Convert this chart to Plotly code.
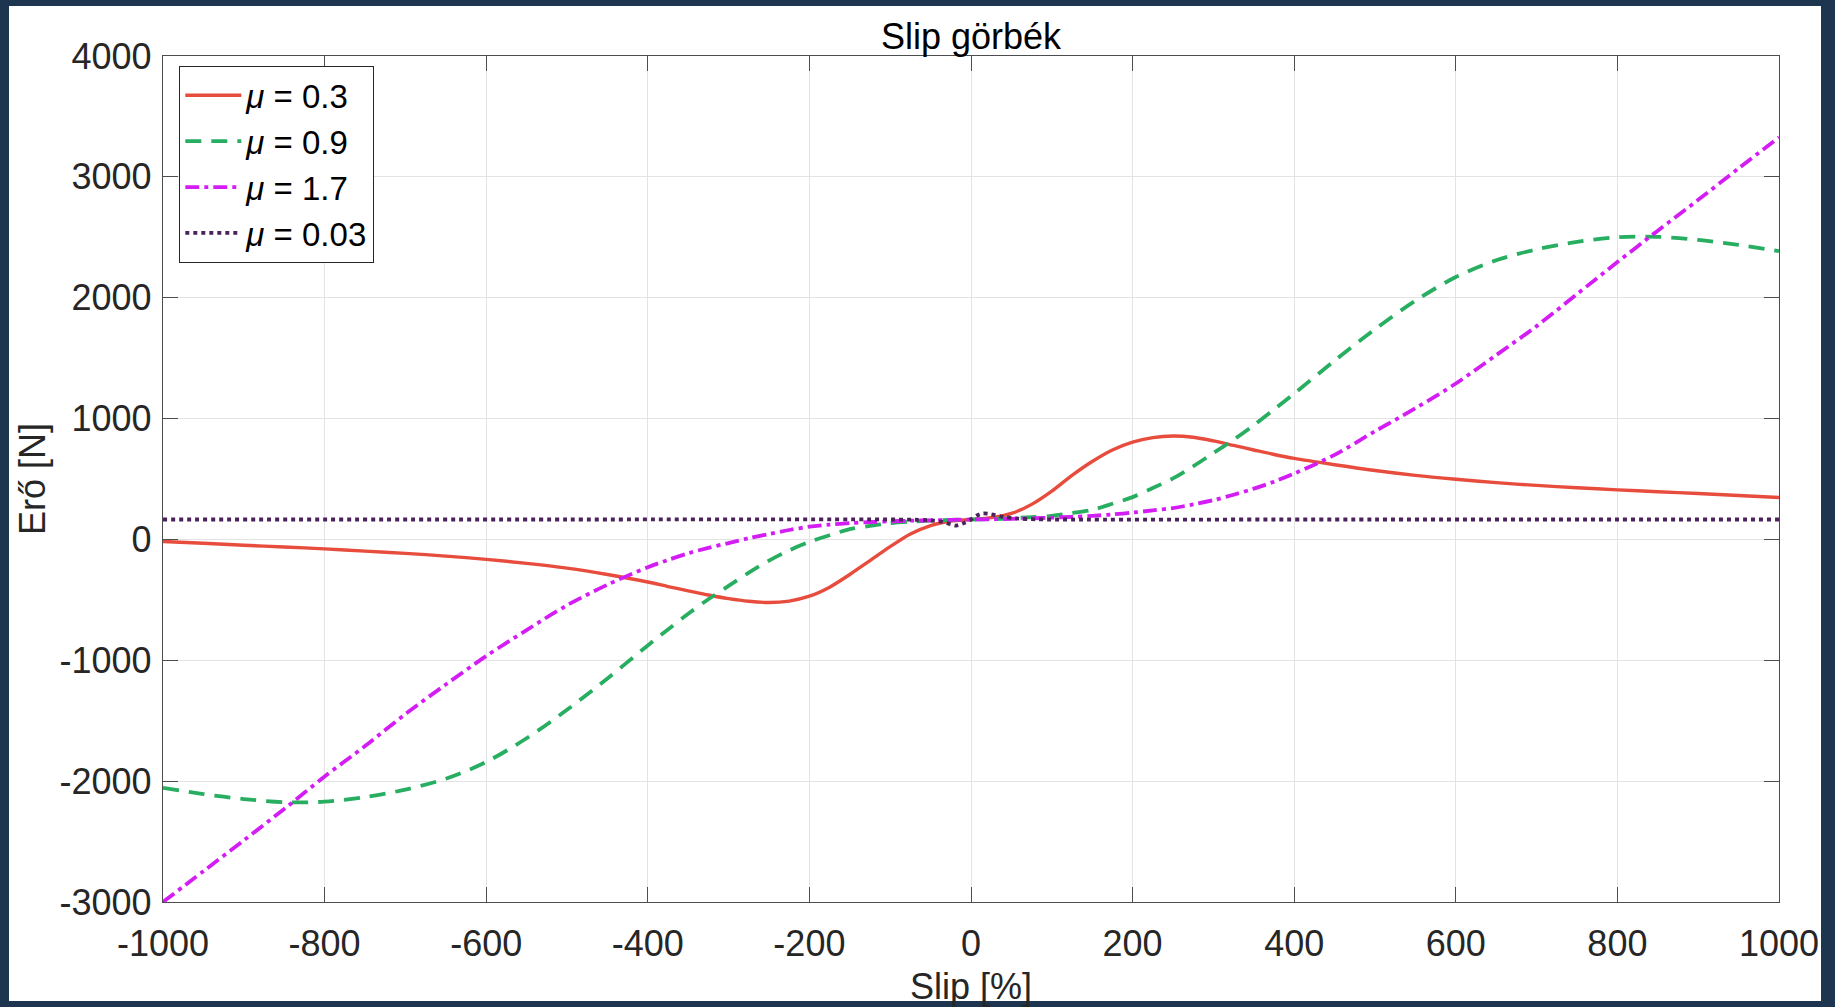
import plotly.graph_objects as go

# ---------------- data ----------------
slip = [-1000, -950, -900, -850, -800, -750, -700, -650, -600, -550, -500,
        -450, -400, -375, -350, -325, -300, -275, -250, -225, -200, -175, -150,
        -125, -100, -75, -50, -25, 0,
        25, 50, 75, 100, 125, 150, 175, 200, 225, 250, 275, 300, 325, 350, 375, 400,
        450, 500, 550, 600, 650, 700, 750, 800, 850, 900, 950, 1000]

force_mu_03 = [-17, -32, -48, -63, -78, -97, -115, -138, -165, -198, -238,
               -290, -352, -390, -425, -460, -490, -512, -522, -510, -470, -395, -290,
               -175, -60, 45, 115, 152, 165,
               180, 215, 290, 400, 530, 645, 740, 805, 842, 856, 845, 815, 778, 740, 703, 670,
               618, 570, 530, 498, 470, 447, 428, 410, 395, 380, 363, 347]

force_mu_09 = [-2055, -2107, -2148, -2174, -2170, -2132, -2070, -1980, -1841, -1645, -1410,
               -1150, -877, -745, -615, -495, -385, -275, -175, -90, -20, 35, 85,
               112, 135, 147, 155, 161, 165,
               168, 175, 184, 195, 218, 245, 295, 350, 425, 505, 605, 715, 825, 945, 1075, 1207,
               1480, 1740, 1975, 2171, 2310, 2400, 2462, 2500, 2504, 2478, 2437, 2385]

force_mu_17 = [-3000, -2745, -2490, -2230, -1962, -1710, -1445, -1200, -965, -750, -545,
               -375, -230, -170, -115, -70, -30, 10, 45, 78, 105, 122, 135,
               144, 150, 155, 158, 162, 165,
               167, 170, 175, 180, 187, 195, 207, 222, 240, 260, 290, 325, 370, 420, 478, 545,
               700, 895, 1085, 1290, 1525, 1765, 2030, 2295, 2555, 2810, 3070, 3328]

slip_mu_003 = [-1000, -500, -100, -70, -50, -35, -25, -18, -10, 0, 8, 15, 25, 40, 55, 80, 100, 500, 1000]
force_mu_003 = [165, 165, 165, 163, 158, 145, 125, 115, 132, 165, 200, 215, 208, 186, 174, 166, 165, 165, 165]

series_names = ["<i>μ</i> = 0.3", "<i>μ</i> = 0.9", "<i>μ</i> = 1.7", "<i>μ</i> = 0.03"]

x_tick_values = [-1000, -800, -600, -400, -200, 0, 200, 400, 600, 800, 1000]
x_tick_labels = ["-1000", "-800", "-600", "-400", "-200", "0", "200", "400", "600", "800", "1000"]
y_tick_values = [-3000, -2000, -1000, 0, 1000, 2000, 3000, 4000]
y_tick_labels = ["-3000", "-2000", "-1000", "0", "1000", "2000", "3000", "4000"]

title_text = "Slip görbék"
x_title = "Slip [%]"
y_title = "Erő [N]"

# ---------------- figure ----------------
FONT = "Liberation Sans, Arial, Helvetica, sans-serif"
NAVY = "#1E3550"
W, H = 1835, 1007
L, R, T, B = 163, 56, 56, 105

fig = go.Figure()
fig.add_trace(go.Scatter(x=slip, y=force_mu_03, mode="lines", name=series_names[0],
                         line=dict(color="#E74C3C", width=3.4, shape="spline", smoothing=0.9)))
fig.add_trace(go.Scatter(x=slip, y=force_mu_09, mode="lines", name=series_names[1],
                         line=dict(color="#27AE60", width=3.8, dash="16px,10px", shape="spline", smoothing=0.9)))
fig.add_trace(go.Scatter(x=slip, y=force_mu_17, mode="lines", name=series_names[2],
                         line=dict(color="#D41CF5", width=3.8, dash="14px,5px,4px,5px", shape="spline", smoothing=0.9)))
fig.add_trace(go.Scatter(x=slip_mu_003, y=force_mu_003, mode="lines", name=series_names[3],
                         line=dict(color="#4A235A", width=3.8, dash="4px,4px", shape="spline", smoothing=0.8)))

pw = W - L - R
ph = H - T - B
# white panel around the axes (navy frame outside)
fig.add_shape(type="rect", xref="paper", yref="paper",
              x0=(9 - L) / pw, x1=(1821 - L) / pw,
              y0=(H - B - 1001) / ph, y1=(H - B - 6) / ph,
              fillcolor="white", line=dict(width=0), layer="below")

axis_common = dict(
    automargin=False,
    showgrid=True, gridcolor="#E3E3E3", gridwidth=1,
    showline=True, linecolor="#4D4D4D", linewidth=1.3, mirror="allticks",
    ticks="inside", ticklen=15, tickwidth=1.3, tickcolor="#4D4D4D",
    zeroline=False,
    tickfont=dict(family=FONT, size=36, color="#262626"),
)

fig.update_layout(
    width=W, height=H,
    margin=dict(l=L, r=R, t=T, b=B, autoexpand=False),
    paper_bgcolor=NAVY,
    plot_bgcolor="white",
    title=dict(text=title_text, x=0.5, xref="paper", xanchor="center",
               y=1 - 36 / H, yref="container", yanchor="middle",
               font=dict(family=FONT, size=36, color="#000000")),
    xaxis=dict(range=[-1000, 1000], tickvals=x_tick_values, ticktext=x_tick_labels,
               ticklabelstandoff=10,
               title=dict(text=x_title, standoff=16,
                          font=dict(family=FONT, size=36, color="#262626")),
               **axis_common),
    yaxis=dict(range=[-3000, 4000], tickvals=y_tick_values, ticktext=y_tick_labels,
               ticklabelstandoff=3,
               title=dict(text=y_title, standoff=2,
                          font=dict(family=FONT, size=36, color="#262626")),
               **axis_common),
    legend=dict(x=(179 - L) / pw, y=(H - B - 66) / ph, xanchor="left", yanchor="top",
                bgcolor="white", bordercolor="#262626", borderwidth=1.3,
                font=dict(family=FONT, size=33, color="#000000"),
                tracegroupgap=0, itemwidth=56),
    showlegend=True,
)

fig.write_html(
    "out.html",
    config={"displayModeBar": False},
    post_script=(
        "document.body.style.margin='0';"
        "document.body.style.padding='0';"
        "document.body.style.background='" + NAVY + "';"
        "document.documentElement.style.overflow='hidden';"
    ),
)
